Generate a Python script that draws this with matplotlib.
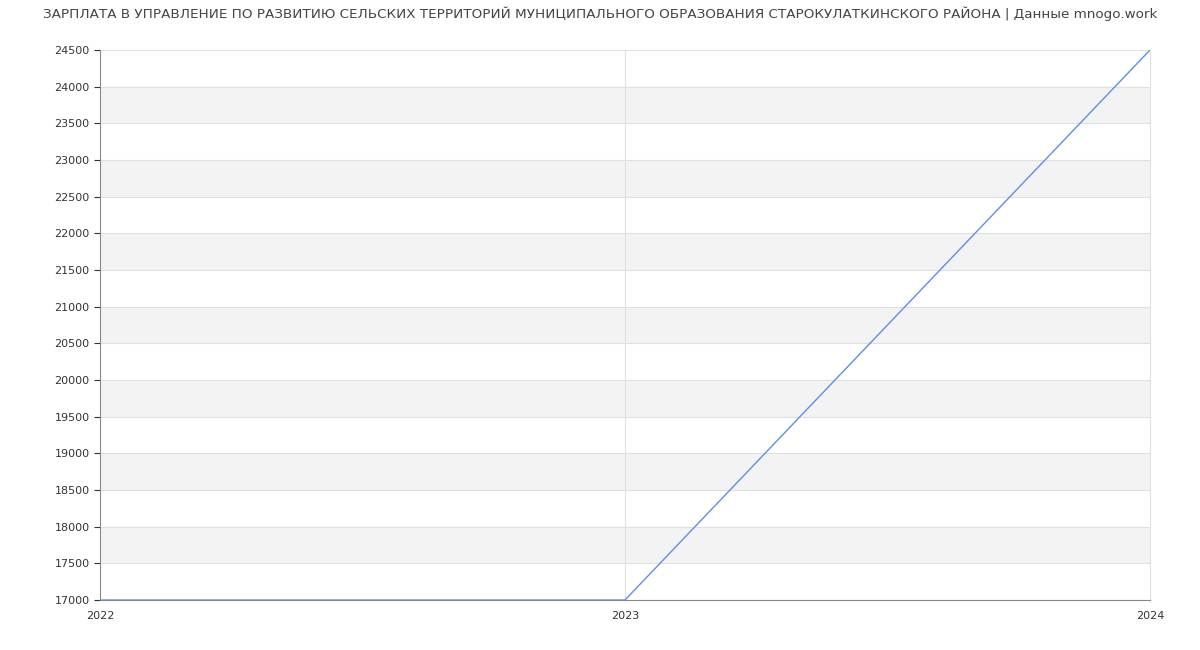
import matplotlib
matplotlib.use('Agg')
import matplotlib.pyplot as plt
import numpy as np


years = [2022, 2023, 2024]
salary = [17000, 17000, 24500]
y_ticks = list(range(17000, 24501, 500))
title = 'ЗАРПЛАТА В УПРАВЛЕНИЕ ПО РАЗВИТИЮ СЕЛЬСКИХ ТЕРРИТОРИЙ МУНИЦИПАЛЬНОГО ОБРАЗОВАНИЯ СТАРОКУЛАТКИНСКОГО РАЙОНА | Данные mnogo.work'

fig = plt.figure(figsize=(12, 6.5), dpi=100)
ax = fig.add_axes([100/1200, 50/650, 1050/1200, 550/650])

# alternating bands
for lo in y_ticks[1:-1:2]:
    ax.axhspan(lo, lo + 500, color='#f3f3f3', zorder=0, lw=0)

for t in y_ticks:
    ax.axhline(t, color='#e0e0e0', lw=0.8, zorder=1)
ax.axvline(2023, color='#e0e0e0', lw=0.8, zorder=1)

ax.plot(years, salary, color='#5b8fe8', lw=1, zorder=3)

ax.set_xlim(2022, 2024)
ax.set_ylim(17000, 24500)
ax.set_yticks(y_ticks)
ax.set_xticks(years)
ax.set_xticklabels([str(y) for y in years])
ax.tick_params(axis='y', labelsize=8, colors='#333333', length=4, width=0.8)
ax.tick_params(axis='x', labelsize=8, colors='#333333', length=0, pad=8)

ax.spines['left'].set_color('#888888')
ax.spines['bottom'].set_color('#888888')
ax.spines['right'].set_color('#e0e0e0')
ax.spines['top'].set_visible(False)

fig.text(0.5, 1 - 14/650, title, ha='center', va='center', fontsize=9.7, color='#444444')

fig.savefig('out.png', dpi=100)
